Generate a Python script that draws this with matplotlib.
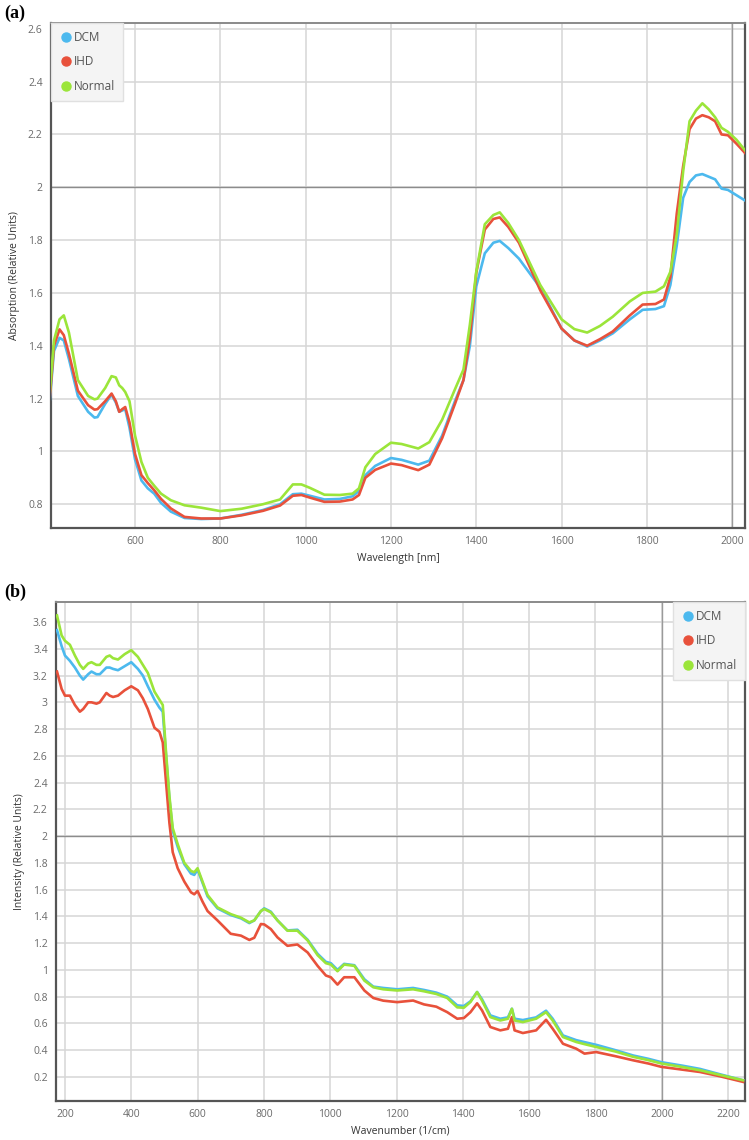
import matplotlib
matplotlib.use("Agg")
import matplotlib.pyplot as plt
from matplotlib.lines import Line2D

# ---------------- data: panel (a) ----------------
wl_a = [400, 410, 423, 433, 445, 466, 490, 505, 512, 530, 545, 555, 563, 570, 577, 587,
        600, 615, 630, 645, 661, 684, 716, 755, 800, 850, 900, 940, 970, 990, 1010, 1044,
        1080, 1110, 1125, 1140, 1163, 1200, 1225, 1264, 1290, 1320, 1350, 1370, 1385, 1400,
        1420, 1440, 1455, 1475, 1500, 1550, 1600, 1630, 1660, 1690, 1720, 1760, 1790, 1820,
        1840, 1855, 1870, 1885, 1900, 1915, 1930, 1945, 1960, 1975, 1990, 2010, 2030]

normal_a = [1.22, 1.42, 1.50, 1.515, 1.45, 1.27, 1.21, 1.197, 1.20, 1.24, 1.285, 1.28, 1.25, 1.24, 1.225, 1.19,
            1.06, 0.96, 0.90, 0.87, 0.84, 0.815, 0.796, 0.787, 0.774, 0.783, 0.80, 0.818, 0.875, 0.875, 0.862, 0.836,
            0.835, 0.84, 0.86, 0.94, 0.99, 1.033, 1.028, 1.011, 1.035, 1.12, 1.235, 1.31, 1.48, 1.68,
            1.86, 1.895, 1.905, 1.865, 1.80, 1.63, 1.50, 1.463, 1.45, 1.475, 1.51, 1.568, 1.60, 1.605,
            1.625, 1.68, 1.82, 2.06, 2.25, 2.29, 2.318, 2.295, 2.265, 2.225, 2.21, 2.18, 2.14]

ihd_a = [1.20, 1.40, 1.462, 1.44, 1.37, 1.23, 1.175, 1.158, 1.16, 1.19, 1.219, 1.19, 1.15, 1.16, 1.168, 1.11,
         0.99, 0.91, 0.88, 0.853, 0.82, 0.784, 0.752, 0.746, 0.746, 0.758, 0.775, 0.795, 0.832, 0.835, 0.825, 0.809,
         0.81, 0.818, 0.835, 0.90, 0.93, 0.954, 0.948, 0.929, 0.95, 1.05, 1.18, 1.27, 1.43, 1.676,
         1.84, 1.88, 1.886, 1.85, 1.79, 1.61, 1.465, 1.42, 1.40, 1.425, 1.454, 1.515, 1.556, 1.558,
         1.575, 1.66, 1.90, 2.08, 2.22, 2.26, 2.273, 2.265, 2.25, 2.20, 2.197, 2.165, 2.13]

dcm_a = [1.19, 1.38, 1.43, 1.42, 1.35, 1.21, 1.15, 1.128, 1.13, 1.18, 1.215, 1.185, 1.15, 1.155, 1.16, 1.09,
         0.97, 0.89, 0.86, 0.84, 0.805, 0.772, 0.748, 0.744, 0.746, 0.76, 0.778, 0.80, 0.838, 0.84, 0.832, 0.818,
         0.82, 0.83, 0.85, 0.91, 0.945, 0.975, 0.968, 0.95, 0.965, 1.06, 1.19, 1.27, 1.40, 1.625,
         1.75, 1.79, 1.797, 1.77, 1.73, 1.62, 1.465, 1.42, 1.397, 1.42, 1.447, 1.50, 1.536, 1.539,
         1.55, 1.63, 1.78, 1.96, 2.02, 2.045, 2.05, 2.04, 2.03, 1.995, 1.99, 1.97, 1.95]

# ---------------- data: panel (b) ----------------
wn_b = [176, 190, 200, 215, 230, 245, 255, 270, 280, 295, 305, 325, 335, 345, 360, 380, 400, 420,
        435, 450, 470, 485, 495, 505, 515, 525, 540, 560, 580, 590, 600, 615, 630, 660, 700, 731,
        756, 771, 791, 801, 821, 841, 871, 901, 932, 962, 987, 1002, 1022, 1042, 1073, 1103, 1130,
        1160, 1202, 1250, 1283, 1320, 1353, 1383, 1403, 1423, 1443, 1458, 1483, 1513, 1536, 1548,
        1556, 1581, 1621, 1651, 1671, 1702, 1742, 1767, 1802, 1860, 1914, 1960, 1999, 2060, 2115,
        2175, 2245]

normal_b = [3.65, 3.50, 3.46, 3.43, 3.35, 3.28, 3.25, 3.29, 3.30, 3.28, 3.28, 3.34, 3.35, 3.33, 3.32, 3.36, 3.39, 3.34,
            3.28, 3.22, 3.08, 3.02, 2.98, 2.62, 2.30, 2.06, 1.94, 1.80, 1.74, 1.73, 1.76, 1.66, 1.56, 1.467, 1.417, 1.39,
            1.355, 1.37, 1.44, 1.455, 1.43, 1.37, 1.293, 1.293, 1.22, 1.11, 1.05, 1.04, 0.99, 1.04, 1.03, 0.92, 0.87,
            0.855, 0.846, 0.855, 0.84, 0.82, 0.79, 0.72, 0.717, 0.76, 0.834, 0.77, 0.647, 0.622, 0.635, 0.709,
            0.622, 0.61, 0.635, 0.684, 0.622, 0.498, 0.461, 0.445, 0.424, 0.39, 0.35, 0.325, 0.30, 0.275, 0.25,
            0.215, 0.175]

dcm_b = [3.54, 3.42, 3.35, 3.31, 3.26, 3.20, 3.17, 3.21, 3.23, 3.21, 3.21, 3.26, 3.26, 3.25, 3.24, 3.27, 3.30, 3.25,
         3.20, 3.12, 3.02, 2.96, 2.93, 2.60, 2.28, 2.04, 1.92, 1.79, 1.72, 1.71, 1.75, 1.65, 1.55, 1.46, 1.41, 1.385,
         1.35, 1.37, 1.44, 1.46, 1.435, 1.37, 1.295, 1.30, 1.225, 1.12, 1.06, 1.05, 1.00, 1.045, 1.035, 0.93, 0.875,
         0.865, 0.855, 0.865, 0.85, 0.83, 0.80, 0.735, 0.73, 0.765, 0.835, 0.78, 0.66, 0.635, 0.645, 0.71,
         0.635, 0.625, 0.645, 0.695, 0.635, 0.51, 0.475, 0.46, 0.44, 0.40, 0.36, 0.335, 0.31, 0.285, 0.26,
         0.22, 0.175]

ihd_b = [3.23, 3.10, 3.05, 3.05, 2.98, 2.93, 2.95, 3.00, 3.00, 2.99, 3.00, 3.07, 3.05, 3.04, 3.05, 3.09, 3.12, 3.09,
         3.03, 2.95, 2.81, 2.78, 2.70, 2.40, 2.10, 1.88, 1.76, 1.66, 1.58, 1.565, 1.59, 1.51, 1.44, 1.37, 1.27, 1.256,
         1.224, 1.24, 1.343, 1.34, 1.305, 1.243, 1.18, 1.19, 1.13, 1.03, 0.958, 0.945, 0.89, 0.945, 0.945, 0.846, 0.79,
         0.77, 0.759, 0.771, 0.742, 0.725, 0.684, 0.635, 0.64, 0.684, 0.75, 0.697, 0.573, 0.548, 0.56, 0.647,
         0.548, 0.528, 0.548, 0.627, 0.56, 0.448, 0.411, 0.374, 0.386, 0.355, 0.324, 0.30, 0.275, 0.255, 0.237,
         0.205, 0.163]

series_names = ["DCM", "IHD", "Normal"]
colors = {"DCM": "#4cb9ee", "IHD": "#e8513b", "Normal": "#9be53a"}

xticks_a = [600, 800, 1000, 1200, 1400, 1600, 1800, 2000]
yticks_a = [0.8, 1.0, 1.2, 1.4, 1.6, 1.8, 2.0, 2.2, 2.4, 2.6]
ytlabels_a = ["0.8", "1", "1.2", "1.4", "1.6", "1.8", "2", "2.2", "2.4", "2.6"]
xticks_b = [200, 400, 600, 800, 1000, 1200, 1400, 1600, 1800, 2000, 2200]
yticks_b = [0.2, 0.4, 0.6, 0.8, 1.0, 1.2, 1.4, 1.6, 1.8, 2.0, 2.2, 2.4, 2.6, 2.8, 3.0, 3.2, 3.4, 3.6]
ytlabels_b = ["0.2", "0.4", "0.6", "0.8", "1", "1.2", "1.4", "1.6", "1.8", "2", "2.2", "2.4",
              "2.6", "2.8", "3", "3.2", "3.4", "3.6"]

plt.rcParams['font.family'] = ['Open Sans', 'DejaVu Sans']

fig = plt.figure(figsize=(7.49, 11.40), dpi=100)
ax_a = fig.add_axes([51/749, 1-528/1140, (745-51)/749, (528-23)/1140])
ax_b = fig.add_axes([56/749, 1-1101/1140, (745-56)/749, (1101-602)/1140])


def style(ax, xt, yt, ytl, xlim, ylim, darkx, darky):
    ax.set_xlim(*xlim)
    ax.set_ylim(*ylim)
    ax.set_xticks(xt)
    ax.set_xticklabels([str(v) for v in xt])
    ax.set_yticks(yt)
    ax.set_yticklabels(ytl)
    ax.grid(True, color="#d6d6d6", linewidth=1.1, zorder=0)
    ax.set_axisbelow(True)
    ax.axhline(darky, color="#8c8c8c", linewidth=1.0, zorder=1)
    ax.axvline(darkx, color="#9a9a9a", linewidth=1.0, zorder=1)
    ax.tick_params(length=0, labelsize=7.5, labelcolor="#6a6a6a", pad=6)
    for s in ["left", "bottom"]:
        ax.spines[s].set_color("#555555")
        ax.spines[s].set_linewidth(1.6)
    ax.spines["top"].set_color("#8a8a8a")
    ax.spines["top"].set_linewidth(1.4)
    ax.spines["right"].set_color("#555555")
    ax.spines["right"].set_linewidth(1.6)


def legend(ax, loc):
    handles = [Line2D([], [], marker="o", linestyle="", markersize=6.5,
                      color=colors[n]) for n in series_names]
    lg = ax.legend(handles, series_names, loc=loc, frameon=True, fontsize=8.5,
                   handletextpad=0.0, borderpad=0.7, labelspacing=0.95,
                   handlelength=1.2, borderaxespad=0.0, fancybox=False)
    lg.get_frame().set_facecolor("#f4f4f4")
    lg.get_frame().set_edgecolor("#e0e0e0")
    lg.get_frame().set_alpha(1)
    for t in lg.get_texts():
        t.set_color("#555555")


# panel (a)
for name, ys in zip(series_names, [dcm_a, ihd_a, normal_a]):
    ax_a.plot(wl_a, ys, color=colors[name], linewidth=1.9, zorder=3)
style(ax_a, xticks_a, yticks_a, ytlabels_a, (403, 2030), (0.71, 2.622), 2000, 2.0)
ax_a.set_xlabel("Wavelength [nm]", fontsize=7.5, color="#333333", labelpad=4)
ax_a.set_ylabel("Absorption (Relative Units)", fontsize=7.5, color="#333333", labelpad=6)
legend(ax_a, "upper left")

# panel (b)
for name, ys in zip(series_names, [dcm_b, ihd_b, normal_b]):
    ax_b.plot(wn_b, ys, color=colors[name], linewidth=1.9, zorder=3)
style(ax_b, xticks_b, yticks_b, ytlabels_b, (173, 2251), (0.02, 3.75), 2000, 2.0)
ax_b.set_xlabel("Wavenumber (1/cm)", fontsize=7.5, color="#333333", labelpad=4)
ax_b.set_ylabel("Intensity (Relative Units)", fontsize=7.5, color="#333333", labelpad=6)
legend(ax_b, "upper right")

fig.text(4/749, 1-13/1140, "(a)", fontsize=13, fontweight="bold",
         family="Liberation Serif", va="center", ha="left")
fig.text(4/749, 1-592/1140, "(b)", fontsize=13, fontweight="bold",
         family="Liberation Serif", va="center", ha="left")

fig.savefig("out.png", dpi=100)
